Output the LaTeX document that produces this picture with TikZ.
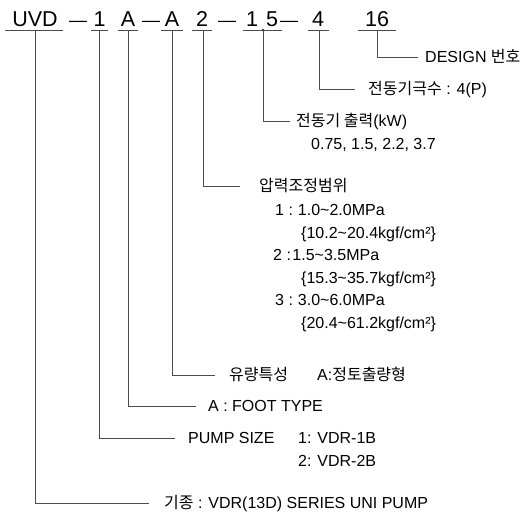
\documentclass[tikz,border=0pt]{standalone}
\usepackage{fontspec}
\setmainfont{Liberation Sans}
\newfontfamily\kr{Noto Sans CJK KR}
\begin{document}
\begin{tikzpicture}[x=1pt,y=-1pt,
  conn/.style={draw=black!70, line width=0.9pt},
  uline/.style={draw=black!70, line width=0.9pt},
  code/.style={font=\fontsize{21.5}{24}\selectfont, anchor=base, inner sep=0},
  dashsym/.style={font=\fontsize{18}{20}\selectfont, anchor=base, inner sep=0},
  lab/.style={font=\fontsize{16}{19}\selectfont, anchor=west, inner sep=0, text height=11.5pt, text depth=0pt}]
\fill[white] (0,0) rectangle (526,515);
\useasboundingbox (0,0) rectangle (526,515);
% code row
\node[code] (c1) at (35,26) {UVD};
\node[dashsym] (d1) at (78,26) {—};
\node[code] (c2) at (99.5,26) {1};
\node[code] (c3) at (128,26) {A};
\node[dashsym] (d2) at (151,26) {—};
\node[code] (c4) at (172,26) {A};
\node[code] (c5) at (202,26) {2};
\node[dashsym] (d3) at (227,26) {—};
\node[code] (c6) at (262,26) {1\kern8pt 5};
\node[dashsym] (d4) at (289,26) {—};
\node[code] (c7) at (318,26) {4};
\node[code] (c8) at (377,26) {16};
% underlines
\draw[uline] (5,30) -- (63,30);
\draw[uline] (91,30) -- (108,30);
\draw[uline] (118,30) -- (138,30);
\draw[uline] (161,30) -- (183,30);
\draw[uline] (192,30) -- (212,30);
\draw[uline] (243,30) -- (282,30);
\draw[uline] (308,30) -- (329,30);
\draw[uline] (358,30) -- (396,30);
\coordinate (u1) at (35,30);
\coordinate (u2) at (99,30);
\coordinate (u3) at (128,30);
\coordinate (u4) at (172,30);
\coordinate (u5) at (203,30);
\coordinate (u6) at (263,30);
\coordinate (u7) at (319,30);
\coordinate (u8) at (377,30);
\fill[black!80] (u6) circle (1.4);
% labels
\node[lab] (l8) at (425,57) {DESIGN {\kr 번호}};
\node[lab] (l7) at (368,89) {{\kr 전동기극수} : 4(P)};
\node[lab] (l6) at (296,121) {{\kr 전동기 출력}(kW)};
\node[lab] (l6b) at (311,144) {0.75, 1.5, 2.2, 3.7};
\node[lab] (l5) at (259,186) {{\kr 압력조정범위}};
\node[lab] (p1) at (275,210) {1 :\hspace{5pt}1.0\textasciitilde 2.0MPa};
\node[lab] (p1k) at (301,233) {\{10.2\textasciitilde 20.4kgf/cm²\}};
\node[lab] (p2) at (273,255) {2 :\hspace{1.5pt}1.5\textasciitilde 3.5MPa};
\node[lab] (p2k) at (301,278) {\{15.3\textasciitilde 35.7kgf/cm²\}};
\node[lab] (p3) at (275,300) {3 :\hspace{5pt}3.0\textasciitilde 6.0MPa};
\node[lab] (p3k) at (301,323) {\{20.4\textasciitilde 61.2kgf/cm²\}};
\node[lab] (l4) at (229,375) {{\kr 유량특성}};
\node[lab] (l4b) at (317,375) {A:{\kr 정토출량형}};
\node[lab] (l3) at (208,406) {A : FOOT TYPE};
\node[lab] (l2) at (188,438) {PUMP SIZE};
\node[lab] (l2b) at (298,438) {1: VDR-1B};
\node[lab] (l2c) at (298,461) {2: VDR-2B};
\node[lab] (l1) at (164,503) {{\kr 기종} : VDR(13D) SERIES UNI PUMP};
% connectors
\draw[conn] (u8) |- ([xshift=-7pt]l8.west);
\draw[conn] (u7) |- ([xshift=-13pt]l7.west);
\draw[conn] (u6) |- ([xshift=-6pt]l6.west);
\draw[conn] (u5) |- ([xshift=-19pt]l5.west);
\draw[conn] (u4) |- ([xshift=-14pt]l4.west);
\draw[conn] (u3) |- ([xshift=-12pt]l3.west);
\draw[conn] (u2) |- ([xshift=-13pt]l2.west);
\draw[conn] (u1) |- ([xshift=-15pt]l1.west);
\end{tikzpicture}
\end{document}
